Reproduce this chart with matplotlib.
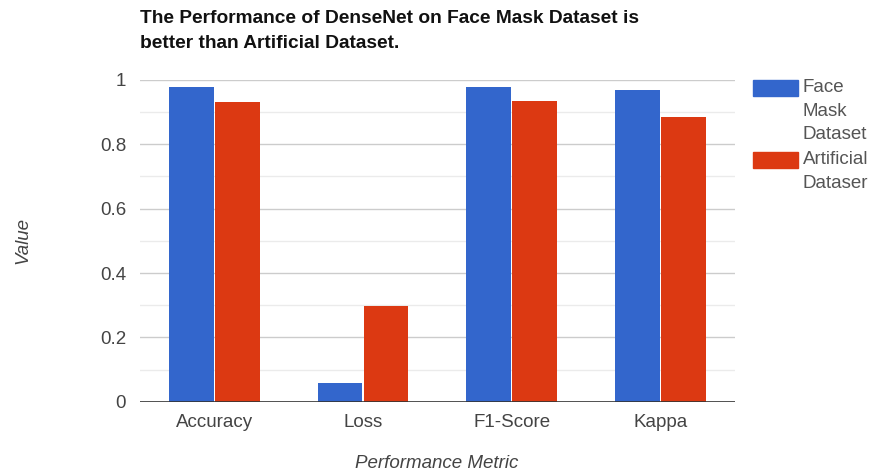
import numpy as np
import matplotlib.pyplot as plt
from matplotlib.patches import Rectangle

metrics = ['Accuracy', 'Loss', 'F1-Score', 'Kappa']
face_mask = [0.977, 0.059, 0.977, 0.968]
artificial = [0.931, 0.298, 0.935, 0.885]
series_names = ['Face\nMask\nDataset', 'Artificial\nDataser']

blue = '#3366cc'
red = '#dc3912'
text_color = '#444444'
fs = 13.5

plt.rcParams['font.family'] = ['Liberation Sans', 'DejaVu Sans']

fig = plt.figure(figsize=(8.81, 4.75), dpi=100)
ax = fig.add_axes([0.159, 0.154, 0.675, 0.678])

x = np.arange(len(metrics))
w = 0.30
gap = 0.01
ax.bar(x - w / 2 - gap / 2, face_mask, w, color=blue, zorder=3)
ax.bar(x + w / 2 + gap / 2, artificial, w, color=red, zorder=3)

ax.set_xlim(-0.5, len(metrics) - 0.5)
ax.set_ylim(0, 1)
ax.set_xticks(x)
ax.set_xticklabels(metrics, fontsize=fs, color=text_color)
ax.set_yticks([0, 0.2, 0.4, 0.6, 0.8, 1.0])
ax.set_yticklabels(['0', '0.2', '0.4', '0.6', '0.8', '1'], fontsize=fs, color=text_color)
ax.tick_params(axis='x', length=0, pad=9)
ax.tick_params(axis='y', length=0, pad=10)

# light minor lines between the labelled ones
for v in np.arange(0.1, 1.0, 0.2):
    ax.axhline(v, color='#ebebeb', lw=1, zorder=1)
for v in [0.2, 0.4, 0.6, 0.8, 1.0]:
    ax.axhline(v, color='#cccccc', lw=1, zorder=1)
ax.axhline(0, color='#333333', lw=1.2, zorder=4)

for s in ax.spines.values():
    s.set_visible(False)

fig.text(437 / 881, 1 - 463 / 475, 'Performance Metric', fontsize=fs, style='italic',
         color=text_color, ha='center', va='center')
fig.text(23 / 881, 1 - 241 / 475, 'Value', fontsize=fs, style='italic', color=text_color,
         ha='center', va='center', rotation=90)

fig.text(0.159, 1 - 10 / 475, 'The Performance of DenseNet on Face Mask Dataset is\nbetter than Artificial Dataset.',
         fontsize=13.8, fontweight='bold', color='#111111', va='top', ha='left', linespacing=1.65)

# legend drawn by hand: swatch plus wrapped label
swatch_tops = [80, 152]
text_tops = [79, 151]
for color, name, st, tt in zip([blue, red], series_names, swatch_tops, text_tops):
    fig.patches.append(Rectangle((753 / 881, 1 - (st + 16) / 475), 45 / 881, 16 / 475,
                                 transform=fig.transFigure, color=color))
    fig.text(803 / 881, 1 - tt / 475, name, fontsize=fs, color='#555555',
             va='top', ha='left', linespacing=1.5)

fig.savefig('out.png', dpi=100)
